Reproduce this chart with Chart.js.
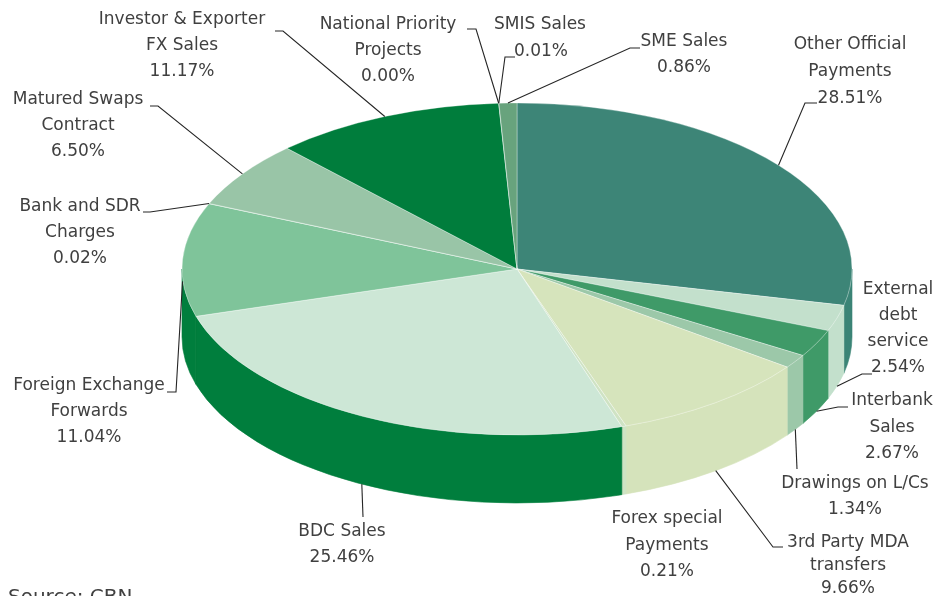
<!DOCTYPE html>
<html>
<head>
<meta charset="utf-8">
<script src="https://cdn.jsdelivr.net/npm/chart.js@4/dist/chart.umd.min.js"></script>
<style>
    html, body { margin: 0; padding: 0; background: #ffffff; }
    #contenedor { width: 935px; height: 596px; overflow: hidden; }
</style>
</head>
<body>
<div id="contenedor"><canvas id="chartDistribucion" width="935" height="596"></canvas></div>
<script>
// Datos (porcentajes, en sentido horario desde las 12)
const categorias = [
    'Other Official Payments', 'External debt service', 'Interbank Sales', 'Drawings on L/Cs',
    '3rd Party MDA transfers', 'Forex special Payments', 'BDC Sales', 'Foreign Exchange Forwards',
    'Bank and SDR Charges', 'Matured Swaps Contract', 'Investor & Exporter FX Sales',
    'National Priority Projects', 'SMIS Sales', 'SME Sales'
];
const lineasEtiqueta = [
    ['Other Official', 'Payments'], ['External', 'debt', 'service'], ['Interbank', 'Sales'],
    ['Drawings on L/Cs'], ['3rd Party MDA', 'transfers'], ['Forex special', 'Payments'],
    ['BDC Sales'], ['Foreign Exchange', 'Forwards'], ['Bank and SDR', 'Charges'],
    ['Matured Swaps', 'Contract'], ['Investor & Exporter', 'FX Sales'],
    ['National Priority', 'Projects'], ['SMIS Sales'], ['SME Sales']
];
const porcentajes = [28.51, 2.54, 2.67, 1.34, 9.66, 0.21, 25.46, 11.04, 0.02, 6.50, 11.17, 0.00, 0.01, 0.86];

// Colores de la tapa y de la pared lateral
const coloresTapa = ['#3d8577', '#c3e0cc', '#3f9a68', '#9cc8a9', '#d6e4bc', '#cfe3c4', '#cde7d6',
    '#7fc49a', '#80c49a', '#99c5a7', '#007d3c', '#4a9a6a', '#5a9d77', '#68a37d'];
const coloresLado = ['#3b8476', '#c3e0cc', '#3f9a68', '#9cc8a9', '#d5e3bb', '#cfe3c4', '#007e3d',
    '#007e3d', '#007e3d', '#99c5a7', '#007d3c', '#4a9a6a', '#5a9d77', '#68a37d'];

// Geometria del pastel en pantalla
const CX = 517, CY = 269, RX = 335, RY = 166, PROFUNDIDAD = 68;

// Posicion de cada etiqueta: centro x, y de la primera linea, separacion, y trazo guia
const posEtiquetas = [
    { x: 850, y: 45, gap: 27, guia: [[817, 103], [805, 103]] },
    { x: 898, y: 290, gap: 26, guia: [[872, 374], [862, 374]] },
    { x: 892, y: 401, gap: 26.5, guia: [[848, 407], [838, 407]] },
    { x: 855, y: 484, gap: 26, guia: [[797, 469]] },
    { x: 848, y: 543, gap: 23, guia: [[783, 547], [773, 547]] },
    { x: 667, y: 519, gap: 26.5, guia: null },
    { x: 342, y: 532, gap: 26, guia: [[363, 517]] },
    { x: 89, y: 386, gap: 26, guia: [[167, 392], [176, 392]], dy: 22 },
    { x: 80, y: 207, gap: 26, guia: [[143, 212], [150, 212]] },
    { x: 78, y: 100, gap: 26, guia: [[150, 106], [158, 106]] },
    { x: 182, y: 20, gap: 26, guia: [[275, 31], [283, 31]] },
    { x: 388, y: 25, gap: 26, guia: [[467, 29], [476, 29]] },
    { x: 540, y: 25, gap: 27, guia: [[515, 57], [505, 57]], dxPct: 1 },
    { x: 684, y: 42, gap: 26, guia: [[640, 48], [630, 48]] }
];

const FUENTE = '"DejaVu Sans", sans-serif';

function formatearPorcentaje(valor) {
    return valor.toFixed(2) + '%';
}

// Punto de anclaje de la guia en el borde del pastel
function puntoBorde(arc, extraY) {
    const a = (arc.startAngle + arc.endAngle) / 2;
    let x = CX + RX * Math.cos(a);
    let y = CY + RY * Math.sin(a);
    if (Math.sin(a) > 0) {
        y += PROFUNDIDAD;
    }
    return { x: x, y: y + (extraY || 0) };
}

const pastel3D = {
    id: 'pastel3D',
    beforeDatasetsDraw(chart) {
        const ctx = chart.ctx;
        const arcs = chart.getDatasetMeta(0).data;

        // Paredes laterales (solo la mitad frontal)
        arcs.forEach((arc, i) => {
            const a1 = Math.max(arc.startAngle, 0);
            const a2 = Math.min(arc.endAngle, Math.PI);
            if (a2 <= a1) return;
            ctx.beginPath();
            ctx.ellipse(CX, CY, RX, RY, 0, a1, a2);
            ctx.lineTo(CX + RX * Math.cos(a2), CY + RY * Math.sin(a2) + PROFUNDIDAD);
            ctx.ellipse(CX, CY + PROFUNDIDAD, RX, RY, 0, a2, a1, true);
            ctx.closePath();
            ctx.fillStyle = coloresLado[i];
            ctx.fill();
            ctx.strokeStyle = coloresLado[i];
            ctx.lineWidth = 0.6;
            ctx.stroke();
        });

        // Aplastar la tapa en una elipse
        const a0 = arcs[0];
        ctx.save();
        ctx.translate(CX, CY);
        ctx.scale(RX / a0.outerRadius, RY / a0.outerRadius);
        ctx.translate(-a0.x, -a0.y);
    },
    afterDatasetsDraw(chart) {
        const ctx = chart.ctx;
        ctx.restore();

        const arcs = chart.getDatasetMeta(0).data;
        ctx.save();
        ctx.font = '17px ' + FUENTE;
        ctx.fillStyle = '#404040';
        ctx.textAlign = 'center';
        ctx.textBaseline = 'middle';

        arcs.forEach((arc, i) => {
            const pos = posEtiquetas[i];
            const lineas = lineasEtiqueta[i].concat([formatearPorcentaje(porcentajes[i])]);
            lineas.forEach((texto, k) => {
                const x = (k === lineas.length - 1 && pos.dxPct) ? pos.x + pos.dxPct : pos.x;
                ctx.fillText(texto, x, pos.y + k * pos.gap);
            });

            if (pos.guia) {
                const fin = puntoBorde(arc, pos.dy);
                ctx.beginPath();
                ctx.moveTo(pos.guia[0][0], pos.guia[0][1]);
                for (let k = 1; k < pos.guia.length; k++) {
                    ctx.lineTo(pos.guia[k][0], pos.guia[k][1]);
                }
                ctx.lineTo(fin.x, fin.y);
                ctx.strokeStyle = '#262626';
                ctx.lineWidth = 1.1;
                ctx.stroke();
            }
        });

        // Fuente de los datos
        ctx.textAlign = 'left';
        ctx.textBaseline = 'alphabetic';
        ctx.font = '20px ' + FUENTE;
        ctx.fillText('Source: CBN', 8, 603);
        ctx.restore();
    }
};

document.addEventListener('DOMContentLoaded', function () {
    const ctx = document.getElementById('chartDistribucion').getContext('2d');
    new Chart(ctx, {
        type: 'pie',
        data: {
            labels: categorias,
            datasets: [{
                data: porcentajes,
                backgroundColor: coloresTapa,
                borderColor: 'rgba(255,255,255,0.55)',
                borderWidth: 0.6,
                clip: false
            }]
        },
        options: {
            responsive: false,
            animation: false,
            events: [],
            layout: { padding: { top: 20, bottom: 78, left: 100, right: 1 } },
            plugins: {
                legend: { display: false },
                tooltip: { enabled: false }
            }
        },
        plugins: [pastel3D]
    });
});
</script>
</body>
</html>
